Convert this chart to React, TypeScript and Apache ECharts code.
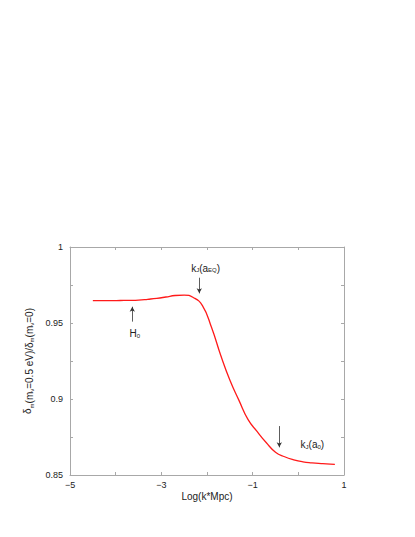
import React, { useEffect, useRef } from "react";
import * as echarts from "echarts";

const logK = [-4.5, -4.3, -4.1, -3.9, -3.7, -3.5, -3.3, -3.1, -2.9, -2.7, -2.5, -2.3, -2.1, -1.9, -1.7, -1.5, -1.3, -1.1, -0.9, -0.7, -0.5, -0.3, -0.1, 0.1, 0.3, 0.5, 0.7, 0.8];
const ratio = [0.9647, 0.9647, 0.9647, 0.9648, 0.9649, 0.9651, 0.9656, 0.9662, 0.9671, 0.9681, 0.9684, 0.9668, 0.9614, 0.947, 0.9288, 0.9125, 0.8991, 0.8864, 0.8785, 0.8712, 0.865, 0.862, 0.86, 0.8587, 0.858, 0.8575, 0.8571, 0.857];

const xTickLabels = ["-5", "-3", "-1", "1"];
const yTickLabels = ["0.85", "0.9", "0.95", "1"];

// annotations: arrow x, arrow from y, arrow to y (head), text x, text y
const annNames = ["kJ(aEQ)", "H0", "kJ(a0)"];
const annArrowX = [-2.169, -3.636, -0.417];
const annArrowFrom = [0.9798, 0.9509, 0.8822];
const annArrowTo = [0.9695, 0.9607, 0.8682];
const annTextX = [-2.03, -3.58, 0.05];
const annTextY = [0.9875, 0.9441, 0.8711];
const annRich = [
  "{t|k}{s|J}{t|(a}{s|EQ}{t|)}",
  "{t|H}{s|0}",
  "{t|k}{s|J}{t|(a}{s|0}{t|)}",
];

const FONT = "'Liberation Sans', Arial, sans-serif";

export default function App() {
  const ref = useRef<HTMLDivElement>(null);
  useEffect(() => {
    if (!ref.current) return;
    const chart = echarts.init(ref.current, undefined, { renderer: "svg" });
    const frame = "#a8a8a8";
    const fmtX = (v: number) => {
      const s = String(Math.round(v));
      return xTickLabels.includes(s) ? s.replace("-", "\u2212") : "";
    };
    const fmtY = (v: number) => {
      const s = String(parseFloat(v.toFixed(3)));
      return yTickLabels.includes(s) ? s : "";
    };
    const rich = {
      t: { fontSize: 10, fontFamily: FONT, color: "#222", lineHeight: 14, verticalAlign: "bottom" as const },
      s: { fontSize: 6, fontFamily: FONT, color: "#222", lineHeight: 7, verticalAlign: "bottom" as const },
    };
    const option: any = {
      animation: false,
      grid: { left: 70, top: 247, right: 71, bottom: 62 },
      xAxis: [
        {
          type: "value", min: -5, max: 1, interval: 1,
          name: "Log(k*Mpc)", nameLocation: "middle", nameGap: 16,
          nameTextStyle: { fontSize: 10, fontFamily: FONT, color: "#222" },
          axisLine: { onZero: false, lineStyle: { color: frame } },
          axisTick: { inside: true, length: 3, lineStyle: { color: frame } },
          axisLabel: { formatter: fmtX, fontSize: 9, fontFamily: FONT, color: "#222", margin: 5 },
          splitLine: { show: false },
        },
        {
          type: "value", min: -5, max: 1, interval: 1, position: "top",
          axisLine: { onZero: false, lineStyle: { color: frame } },
          axisTick: { inside: true, length: 3, lineStyle: { color: frame } },
          axisLabel: { show: false }, splitLine: { show: false },
        },
      ],
      yAxis: [
        {
          type: "value", min: 0.85, max: 1, interval: 0.025,
          name: "δ{s|m}{t|(m}{s|ν}{t|=0.5 eV)/δ}{s|m}{t|(m}{s|ν}{t|=0)}",
          nameLocation: "middle", nameGap: 30, nameRotate: 90,
          nameTextStyle: { fontSize: 10, fontFamily: FONT, color: "#222", rich },
          axisLine: { show: true, onZero: false, lineStyle: { color: frame } },
          axisTick: { show: true, inside: true, length: 3, lineStyle: { color: frame } },
          axisLabel: { formatter: fmtY, fontSize: 9, fontFamily: FONT, color: "#222", margin: 7 },
          splitLine: { show: false },
        },
        {
          type: "value", min: 0.85, max: 1, interval: 0.025, position: "right",
          axisLine: { show: true, onZero: false, lineStyle: { color: frame } },
          axisTick: { show: true, inside: true, length: 3, lineStyle: { color: frame } },
          axisLabel: { show: false }, splitLine: { show: false },
        },
      ],
      series: [
        {
          type: "line",
          data: logK.map((x, i) => [x, ratio[i]]),
          smooth: 0.5,
          showSymbol: false,
          lineStyle: { color: "#ff1a1a", width: 1.3 },
          markLine: {
            silent: true,
            symbol: ["none", "arrow"],
            symbolSize: [4, 5],
            label: { show: false },
            lineStyle: { color: "#333", width: 0.8, type: "solid" },
            data: annNames.map((_, i) => [
              { coord: [annArrowX[i], annArrowFrom[i]] },
              { coord: [annArrowX[i], annArrowTo[i]] },
            ]),
          },
          markPoint: {
            silent: true,
            symbol: "circle",
            symbolSize: 0,
            data: annNames.map((n, i) => ({
              name: n,
              coord: [annTextX[i], annTextY[i]],
              label: {
                show: true,
                position: i === 2 ? "right" : "inside",
                distance: 0,
                formatter: annRich[i],
                rich,
              },
            })),
          },
        },
      ],
    };
    chart.setOption(option);
    return () => chart.dispose();
  }, []);
  return <div ref={ref} style={{ width: 415, height: 537, position: "absolute", left: 0, top: 0 }} />;
}
